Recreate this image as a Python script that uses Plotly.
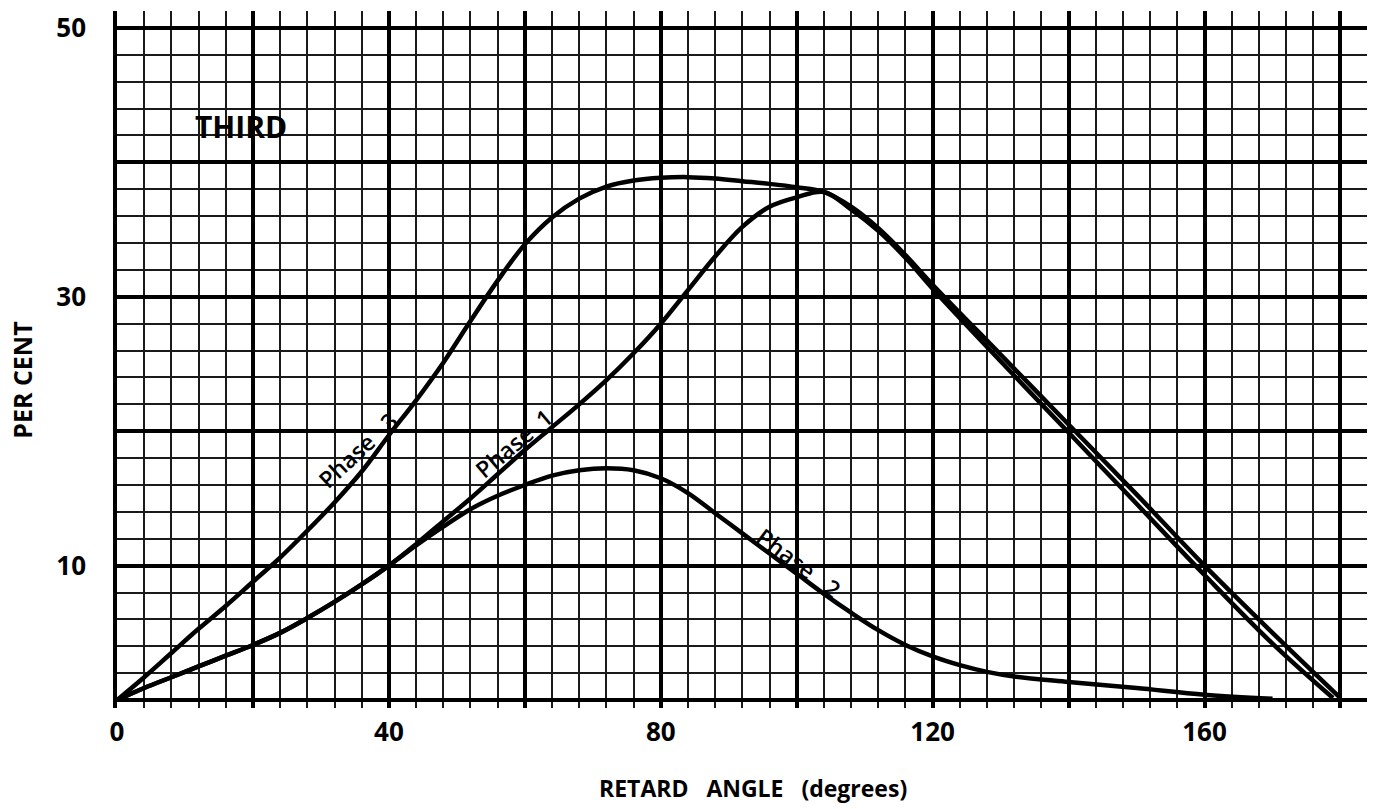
import plotly.graph_objects as go

# ---------------- data ----------------
phase3_x = [0, 4, 8, 12, 16, 20, 24, 28, 32, 36, 40, 44, 48, 52, 56, 60, 64, 68, 72, 76, 80,
            84, 88, 92, 96, 100, 104, 108, 112, 116, 120, 130, 140, 150, 160, 170, 180]
phase3_y = [0, 1.7, 3.5, 5.3, 7.0, 8.8, 10.6, 12.6, 14.7, 17.0, 19.7, 22.3, 25.1, 28.2, 31.2,
            33.9, 35.9, 37.3, 38.2, 38.65, 38.85, 38.9, 38.8, 38.6, 38.4, 38.15, 37.8, 36.7, 35.1,
            33.1, 30.9, 25.7, 20.5, 15.3, 10.0, 5.0, 0.15]

phase1_x = [0, 4, 8, 12, 16, 20, 24, 28, 32, 36, 40, 44, 48, 52, 56, 60, 64, 68, 72, 76, 80,
            84, 88, 92, 96, 100, 104, 108, 112, 116, 120, 130, 140, 150, 160, 170, 178.9]
phase1_y = [0, 0.9, 1.7, 2.5, 3.3, 4.1, 5.0, 6.1, 7.3, 8.6, 10.0, 11.6, 13.3, 15.0, 16.8, 18.6,
            20.3, 22.0, 23.8, 25.8, 28.0, 30.5, 33.0, 35.2, 36.7, 37.4, 37.8, 36.5, 34.9, 32.9,
            30.6, 25.2, 19.9, 14.6, 9.3, 4.2, 0.15]

phase2_x = [0, 4, 8, 12, 16, 20, 24, 28, 32, 36, 40, 44, 48, 52, 56, 60, 64, 68, 72, 76, 80,
            84, 88, 92, 96, 100, 104, 108, 112, 116, 120, 124, 128, 132, 140, 150, 160, 170]
phase2_y = [0, 0.9, 1.7, 2.5, 3.3, 4.1, 5.0, 6.1, 7.3, 8.6, 10.0, 11.5, 12.9, 14.2, 15.2, 16.0,
            16.7, 17.1, 17.25, 17.1, 16.5, 15.4, 13.9, 12.4, 10.9, 9.4, 7.9, 6.5, 5.2, 4.1, 3.25,
            2.6, 2.1, 1.75, 1.35, 0.9, 0.4, 0.1]

x_tickvals = [0, 20, 40, 60, 80, 100, 120, 140, 160, 180]
x_ticktext = ["0", "", "40", "", "80", "", "120", "", "160", ""]
y_tickvals = [0, 10, 20, 30, 40, 50]
y_ticktext = ["", "10", "", "30", "", "50"]

FONT = "Open Sans"

fig = go.Figure()
for xs, ys in [(phase2_x, phase2_y), (phase1_x, phase1_y), (phase3_x, phase3_y)]:
    fig.add_trace(go.Scatter(x=xs, y=ys, mode="lines",
                             line=dict(color="black", width=4.5, shape="spline", smoothing=1.0),
                             showlegend=False, hoverinfo="skip"))

fig.update_layout(
    width=1377, height=809,
    margin=dict(l=117, r=10, t=9, b=101),
    paper_bgcolor="white", plot_bgcolor="white",
    showlegend=False,
    font=dict(family=FONT, color="black"),
)

fig.update_xaxes(
    range=[0, 183.9], tickmode="array", tickvals=x_tickvals, ticktext=x_ticktext,
    showgrid=True, gridcolor="black", gridwidth=3.5, zeroline=False, showline=False,
    ticks="", ticklabelstandoff=6,
    tickfont=dict(family=FONT, size=26, weight="bold", color="black"),
    minor=dict(tickmode="array", tickvals=list(range(0, 184, 4)), showgrid=True,
               gridcolor="#1a1a1a", gridwidth=1.8),
)
fig.update_yaxes(
    range=[-0.59, 51.26], tickmode="array", tickvals=y_tickvals, ticktext=y_ticktext,
    showgrid=True, gridcolor="black", gridwidth=3.5, zeroline=False,
    showline=True, linecolor="black", linewidth=3.5,
    ticks="", ticklabelstandoff=22,
    tickfont=dict(family=FONT, size=26, weight="bold", color="black"),
    minor=dict(tickmode="array", tickvals=list(range(0, 52, 2)), showgrid=True,
               gridcolor="#1a1a1a", gridwidth=1.8),
)

ann = []
ann.append(dict(text="PER CENT", xref="paper", yref="paper", x=-0.0761, y=0.4707,
                textangle=-90, showarrow=False, xanchor="center", yanchor="middle",
                font=dict(family=FONT, size=25, weight="bold", color="black")))
ann.append(dict(text="RETARD\u00a0\u00a0 ANGLE\u00a0\u00a0 (degrees)", xref="paper", yref="paper",
                x=0.5084, y=-0.1144, showarrow=False, xanchor="center", yanchor="middle",
                font=dict(family=FONT, size=23, weight="bold", color="black")))
ann.append(dict(text="THIRD", xref="x", yref="y", x=18.25, y=42.65, showarrow=False,
                xanchor="center", yanchor="middle",
                font=dict(family=FONT, size=30, weight="bold", color="black")))
ann.append(dict(text="Phase\u00a0\u00a0 3", xref="x", yref="y", x=35.4, y=18.6, textangle=-43,
                showarrow=False, xanchor="center", yanchor="middle",
                font=dict(family=FONT, size=23, weight=600, color="black")))
ann.append(dict(text="Phase\u00a0 1", xref="x", yref="y", x=58.4, y=19.1, textangle=-40,
                showarrow=False, xanchor="center", yanchor="middle",
                font=dict(family=FONT, size=23, weight=600, color="black")))
ann.append(dict(text="Phase\u00a0\u00a0 2", xref="x", yref="y", x=100.4, y=10.2, textangle=37,
                showarrow=False, xanchor="center", yanchor="middle",
                font=dict(family=FONT, size=23, weight=600, color="black")))
fig.update_layout(annotations=ann)

fig.write_html("out.html")
